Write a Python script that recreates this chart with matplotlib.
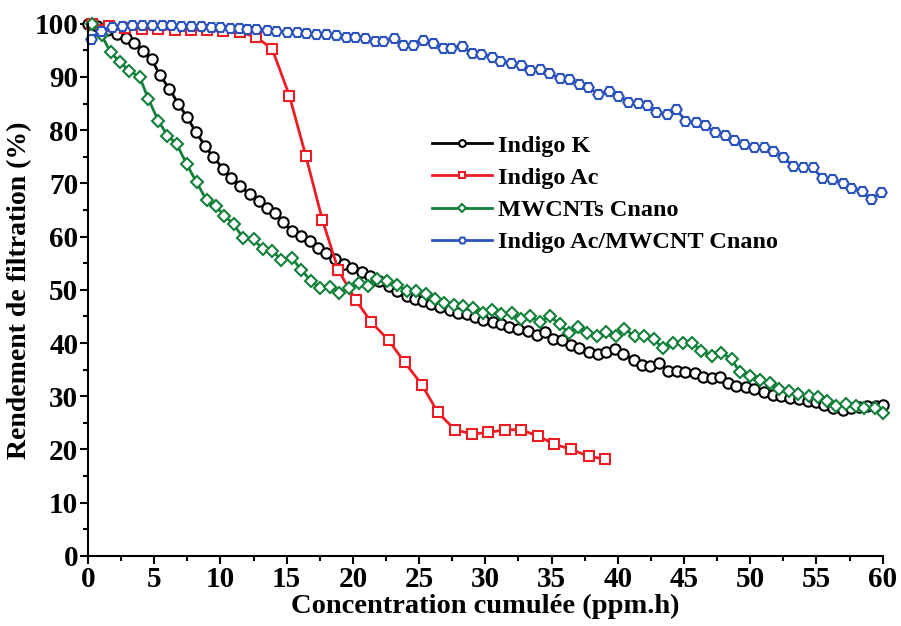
import matplotlib
matplotlib.use("Agg")
import matplotlib.pyplot as plt
from matplotlib.ticker import MultipleLocator

plt.rcParams["font.family"] = ["Liberation Serif", "DejaVu Serif"]
plt.rcParams["font.weight"] = "bold"

# Indigo K
k_x = [0.0, 0.7, 1.4, 2.16, 2.85, 3.5, 4.13, 4.8, 5.43, 6.14, 6.8, 7.5, 8.15, 8.83,
       9.46, 10.2, 10.8, 11.5, 12.2, 12.9, 13.5, 14.1, 14.7, 15.4, 16.05, 16.75, 17.4,
       18.0, 18.65, 19.3, 19.9, 20.7, 21.3, 22.0, 22.7, 23.3, 24.05, 24.7, 25.3, 25.9,
       26.6, 27.3, 27.9, 28.6, 29.2, 29.8, 30.6, 31.2, 31.8, 32.5, 33.2, 33.9, 34.5,
       35.1, 35.75, 36.5, 37.1, 37.8, 38.5, 39.1, 39.8, 40.4, 41.2, 41.8, 42.4, 43.1,
       43.8, 44.5, 45.1, 45.8, 46.4, 47.1, 47.7, 48.3, 48.95, 49.7, 50.3, 51.0, 51.7,
       52.35, 53.0, 53.7, 54.35, 55.0, 55.6, 56.25, 57.0, 57.6, 58.2, 58.8, 59.5, 60.0]
k_y = [100.0, 99.5, 98.9, 98.1, 97.3, 96.3, 94.8, 93.4, 90.3, 87.8, 85.0, 82.4, 79.6, 77.1,
       74.9, 72.8, 71.1, 69.5, 68.0, 66.7, 65.3, 64.5, 62.7, 61.1, 60.1, 59.1, 57.8,
       57.0, 55.8, 54.8, 54.1, 53.3, 52.6, 51.7, 50.7, 49.8, 48.8, 48.3, 47.9, 47.3,
       46.8, 46.3, 45.7, 45.4, 44.9, 44.4, 43.9, 43.5, 43.1, 42.6, 42.2, 41.6, 42.0,
       40.7, 40.6, 39.7, 39.1, 38.3, 38.0, 38.3, 38.9, 37.9, 36.9, 35.8, 35.7, 36.3,
       34.8, 34.8, 34.5, 34.3, 33.6, 33.5, 33.6, 32.5, 32.0, 31.8, 31.3, 30.8, 30.3,
       30.0, 29.7, 29.4, 29.2, 28.9, 28.4, 27.8, 27.5, 27.7, 28.0, 28.2, 28.2, 28.4]

# Indigo Ac
ac_x = [0.3, 1.55, 2.8, 4.05, 5.3, 6.6, 7.8, 9.0, 10.2, 11.5, 12.7, 13.9, 15.2, 16.45,
        17.7, 18.9, 20.2, 21.4, 22.7, 23.9, 25.2, 26.4, 27.7, 29.0, 30.2, 31.5, 32.7,
        34.0, 35.2, 36.5, 37.8, 39.0]
ac_y = [100.0, 99.5, 99.2, 99.1, 99.1, 98.9, 98.9, 98.8, 98.6, 98.4, 97.5, 95.3, 86.5,
        75.1, 63.1, 53.7, 48.1, 43.9, 40.5, 36.4, 32.2, 27.0, 23.7, 22.9, 23.2, 23.7,
        23.7, 22.5, 21.0, 20.0, 18.7, 18.2]

# MWCNTs Cnano
mw_x = [0.28, 1.03, 1.7, 2.4, 3.1, 3.9, 4.55, 5.3, 6.0, 6.7, 7.45, 8.2, 8.96, 9.63, 10.3,
        11.0, 11.7, 12.5, 13.2, 13.9, 14.6, 15.4, 16.1, 16.85, 17.5, 18.3, 18.97, 19.7,
        20.45, 21.15, 21.85, 22.6, 23.3, 24.05, 24.75, 25.5, 26.2, 26.9, 27.6, 28.3,
        29.1, 29.8, 30.5, 31.2, 31.98, 32.7, 33.4, 34.1, 34.9, 35.6, 36.3, 37.0, 37.7,
        38.4, 39.1, 39.85, 40.5, 41.3, 42.0, 42.7, 43.4, 44.2, 44.9, 45.6, 46.3, 47.1,
        47.8, 48.6, 49.2, 49.96, 50.7, 51.5, 52.2, 52.9, 53.6, 54.4, 55.1, 55.8, 56.5,
        57.2, 57.96, 58.6, 59.4, 60.0]
mw_y = [100.0, 97.8, 94.7, 92.8, 91.2, 90.0, 85.9, 81.8, 79.0, 77.4, 73.6, 70.2, 66.8,
        65.8, 63.9, 62.3, 59.8, 59.5, 57.6, 57.3, 55.7, 56.0, 53.7, 51.7, 50.3, 50.6,
        49.4, 50.3, 51.2, 50.8, 52.0, 51.7, 51.0, 49.8, 49.8, 49.2, 48.2, 47.6, 47.1,
        47.0, 46.5, 45.7, 46.3, 45.4, 45.7, 44.6, 45.0, 43.9, 45.1, 43.5, 41.9, 43.0,
        41.9, 41.4, 42.0, 41.3, 42.6, 41.3, 41.3, 40.7, 39.1, 40.1, 40.1, 40.1, 38.5,
        37.6, 38.2, 37.0, 34.5, 33.8, 33.1, 32.5, 31.4, 30.9, 30.5, 30.0, 29.9, 29.1,
        28.2, 28.6, 28.2, 27.8, 27.8, 26.9]

# Indigo Ac/MWCNT Cnano
hy_x = [0.2, 0.96, 1.8, 2.6, 3.3, 4.1, 4.85, 5.6, 6.3, 7.05, 7.8, 8.5, 9.25, 10.0, 10.7,
        11.4, 12.0, 12.7, 13.5, 14.2, 15.0, 15.75, 16.45, 17.2, 17.96, 18.7, 19.5,
        20.15, 20.9, 21.7, 22.3, 23.1, 23.8, 24.5, 25.3, 26.05, 26.8, 27.4, 28.2, 28.96,
        29.7, 30.5, 31.1, 31.9, 32.7, 33.4, 34.1, 34.8, 35.6, 36.3, 37.1, 37.76, 38.5,
        39.3, 40.0, 40.8, 41.5, 42.2, 42.9, 43.7, 44.4, 45.1, 45.9, 46.6, 47.3, 48.1,
        48.8, 49.5, 50.3, 51.0, 51.7, 52.5, 53.2, 54.0, 54.7, 55.4, 56.2, 57.0, 57.6,
        58.4, 59.1, 59.9]
hy_y = [97.2, 98.7, 99.4, 99.5, 99.7, 99.7, 99.7, 99.7, 99.7, 99.6, 99.6, 99.5, 99.4,
        99.4, 99.3, 99.2, 99.1, 99.1, 98.9, 98.7, 98.5, 98.5, 98.3, 98.1, 98.1, 97.9,
        97.5, 97.5, 97.3, 96.8, 96.8, 97.3, 96.0, 96.0, 96.9, 96.3, 95.5, 95.5, 95.9,
        94.5, 94.3, 93.8, 93.0, 92.7, 92.2, 91.4, 91.5, 90.7, 89.8, 89.6, 88.6, 88.1,
        86.8, 87.4, 86.5, 85.3, 85.1, 84.8, 83.4, 83.1, 84.0, 81.8, 81.5, 81.0, 79.6,
        79.1, 78.2, 77.4, 76.8, 76.8, 76.1, 74.9, 73.3, 73.0, 73.0, 71.1, 70.8, 70.1,
        69.2, 68.6, 67.0, 68.3]

series = [
    (k_x, k_y, "Indigo K", "black", "o"),
    (ac_x, ac_y, "Indigo Ac", "#ee1c25", "s"),
    (mw_x, mw_y, "MWCNTs Cnano", "#12803a", "D"),
    (hy_x, hy_y, "Indigo Ac/MWCNT Cnano", "#2a52be", "H"),
]

fig = plt.figure(figsize=(9.01, 6.26), dpi=100)
ax = fig.add_axes([0.0977, 0.112, 0.882, 0.85])

for xs, ys, label, color, marker in series:
    ms = 6.5 if marker == "D" else 7.5
    ax.plot(xs, ys, color=color, lw=2, marker=marker, ms=ms, mfc="white",
            mec=color, mew=1.5, label=label, clip_on=False)

ax.set_xlim(0, 60)
ax.set_ylim(0, 100)
ax.xaxis.set_major_locator(MultipleLocator(5))
ax.xaxis.set_minor_locator(MultipleLocator(2.5))
ax.yaxis.set_major_locator(MultipleLocator(10))
ax.yaxis.set_minor_locator(MultipleLocator(5))
ax.tick_params(which="major", direction="out", length=6, width=1.5, labelsize=21, pad=1)
ax.tick_params(which="minor", direction="out", length=3.5, width=1.5)
for side in ("top", "right"):
    ax.spines[side].set_visible(False)
for side in ("left", "bottom"):
    ax.spines[side].set_linewidth(1.5)

ax.set_xlabel("Concentration cumulée (ppm.h)", fontsize=20.5, fontweight="bold", labelpad=1)
ax.set_ylabel("Rendement de filtration (%)", fontsize=20, fontweight="bold", labelpad=2)

leg = ax.legend(loc="upper left", bbox_to_anchor=(0.42, 0.81), frameon=False,
                fontsize=17.5, markerscale=0.65, handlelength=2.5, handletextpad=0.25,
                labelspacing=0.42, borderaxespad=0)
for t in leg.get_texts():
    t.set_fontweight("bold")

fig.savefig("out.png", dpi=100)
